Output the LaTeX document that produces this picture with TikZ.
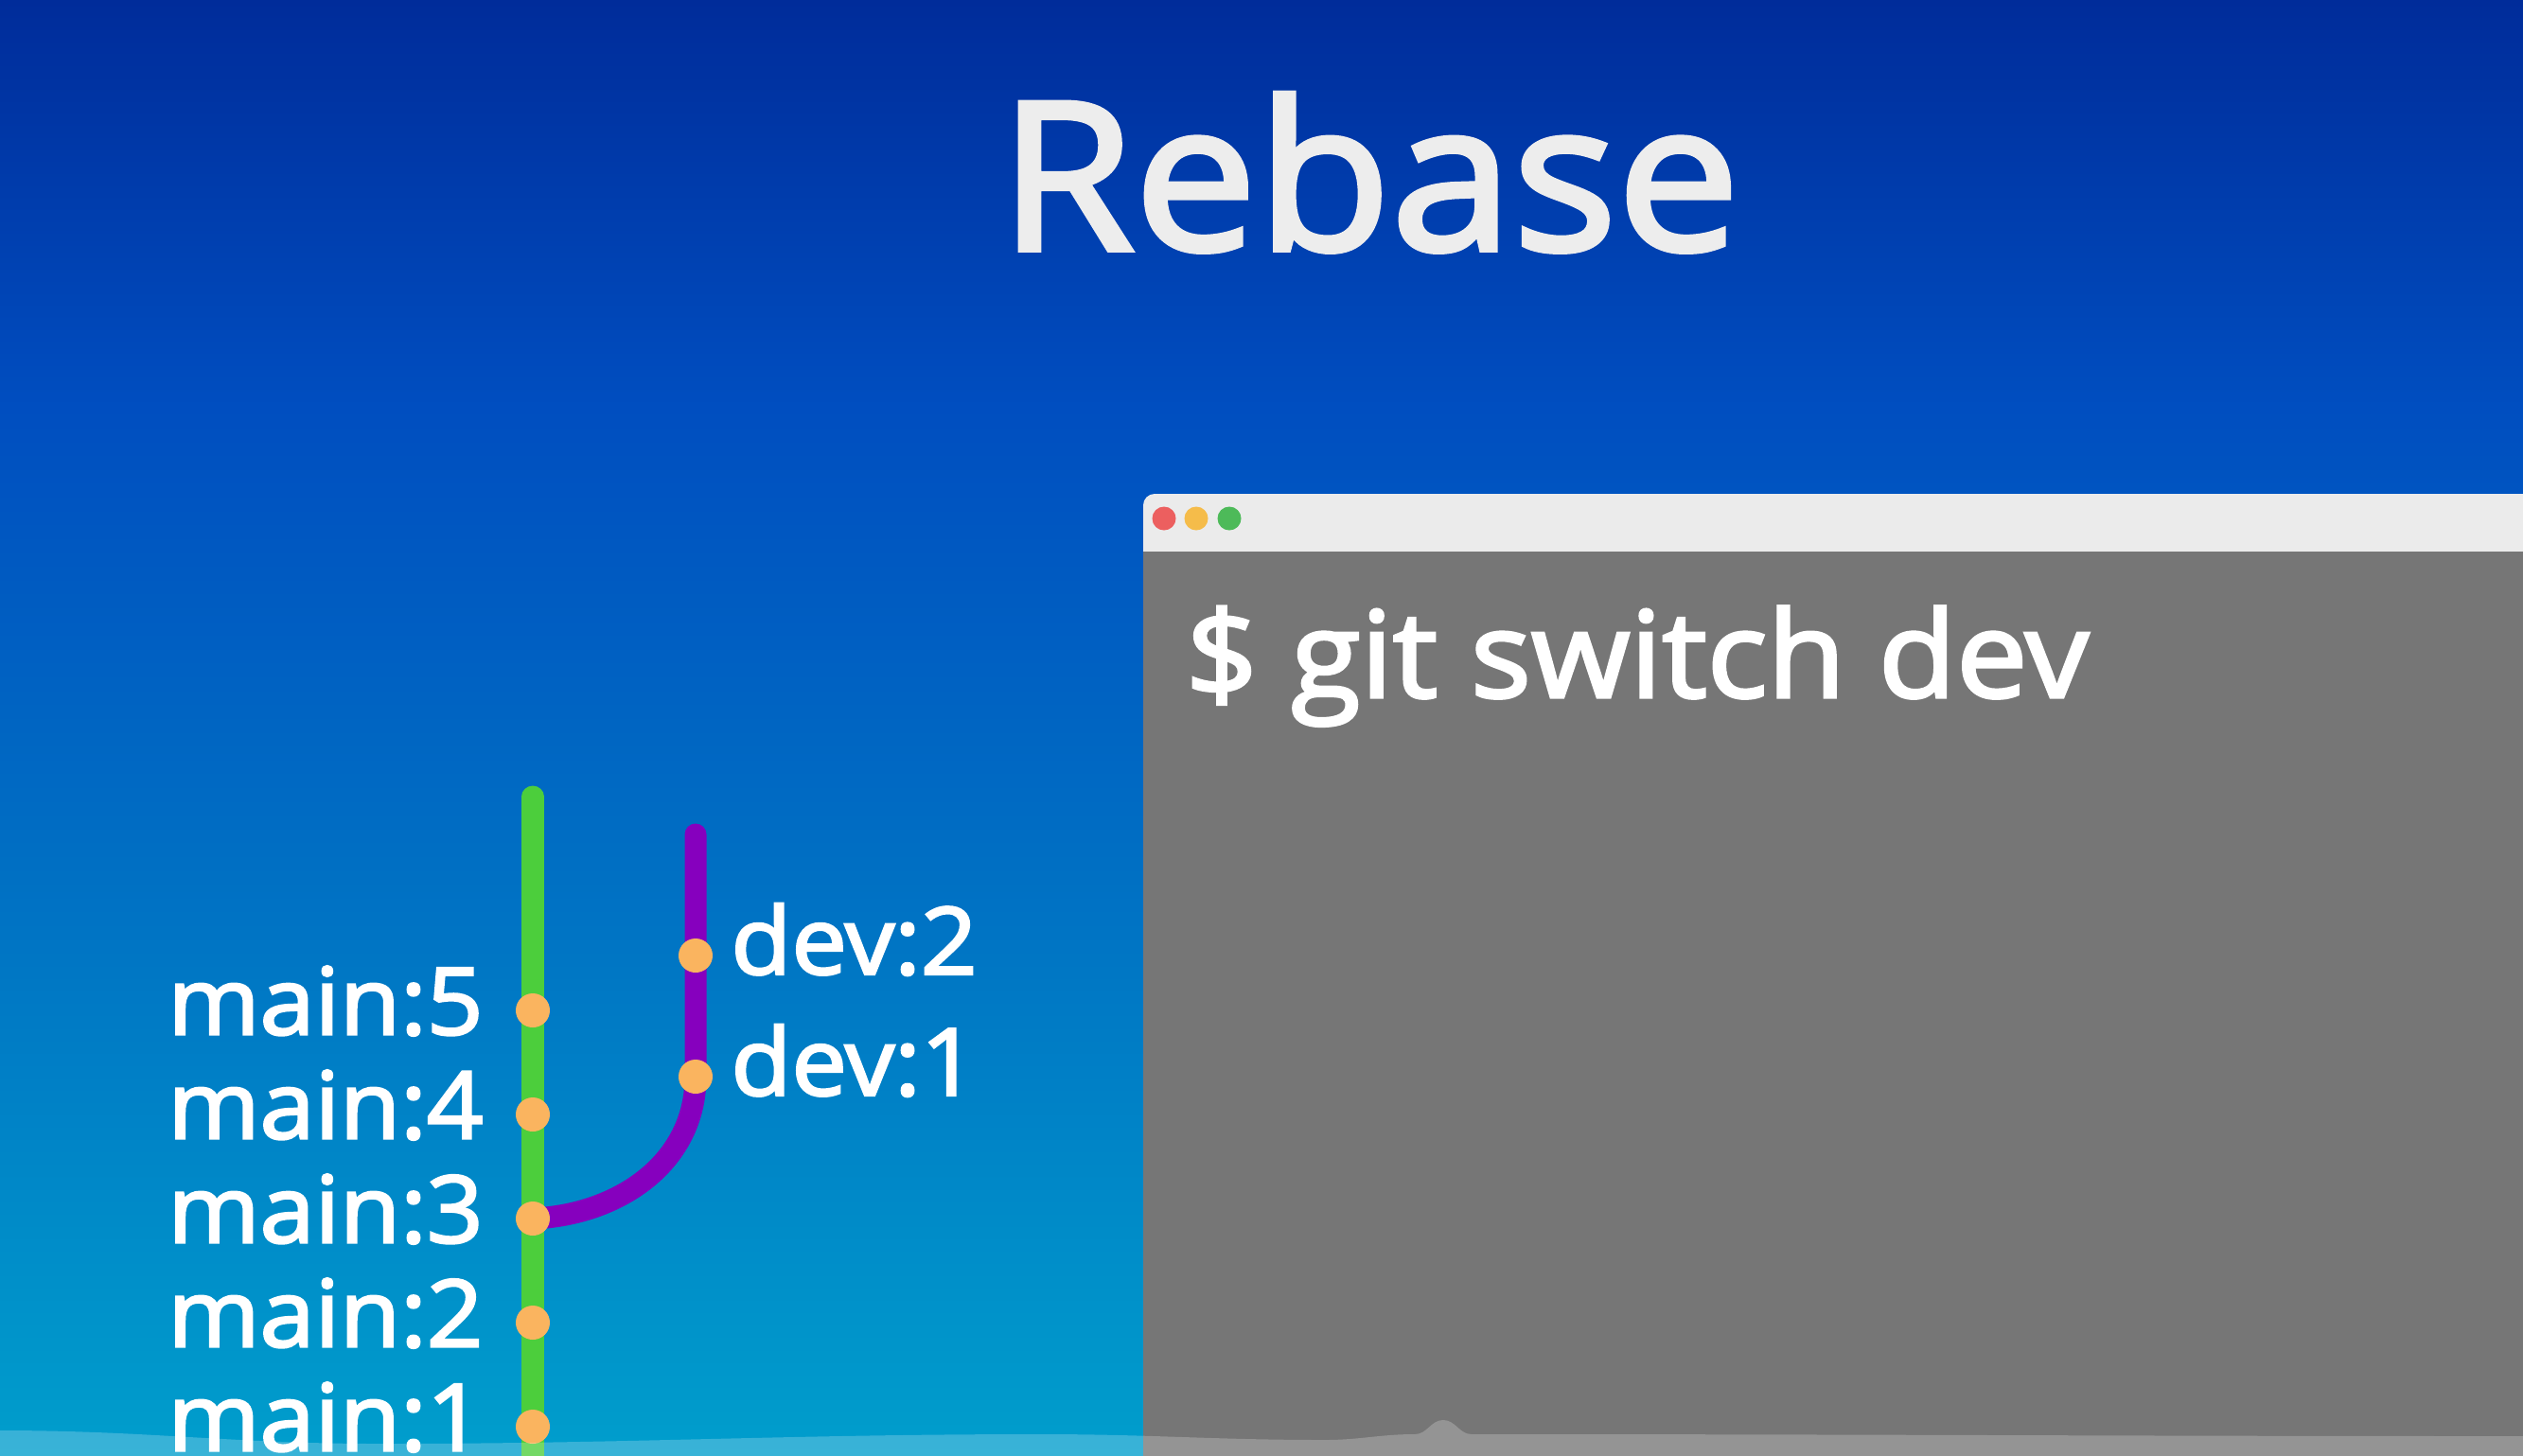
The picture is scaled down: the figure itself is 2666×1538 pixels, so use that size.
\documentclass[tikz,border=0pt]{standalone}
\usepackage{fontspec}
\setmainfont{Open Sans}[FakeBold=2.6, FakeStretch=1.06]
\usetikzlibrary{positioning,calc}
\usepackage{xcolor}

\definecolor{bgtop}{RGB}{0,44,154}
\definecolor{bgupper}{RGB}{0,78,192}
\definecolor{bglower}{RGB}{0,118,196}
\definecolor{bgbot}{RGB}{0,158,204}
\definecolor{termgray}{RGB}{118,118,118}
\definecolor{barwhite}{RGB}{235,235,235}
\definecolor{mainline}{RGB}{76,206,60}
\definecolor{devline}{RGB}{134,0,190}
\definecolor{dotorange}{RGB}{250,180,95}
\definecolor{lightred}{RGB}{236,95,95}
\definecolor{lightyellow}{RGB}{245,188,74}
\definecolor{lightgreen}{RGB}{77,186,89}
\pgfdeclareverticalshading{bgfade}{100bp}{color(0bp)=(bgbot); color(25bp)=(bgbot); color(42bp)=(bglower); color(61bp)=(bgupper); color(75bp)=(bgtop); color(100bp)=(bgtop)}

\begin{document}
\begin{tikzpicture}[x=0.01cm, y=-0.01cm,
  commit/.style={circle, fill=dotorange, inner sep=0pt, minimum size=0.36cm},
  lbl/.style={text=white, inner sep=0pt, font=\fontsize{28}{32}\selectfont},
  branch/.style={line width=0.23cm, line cap=round},
  light/.style={circle, inner sep=0pt, minimum size=0.25cm}]

% Background
\useasboundingbox (0,0) rectangle (2666,1538);
\clip (0,0) rectangle (2666,1538);
\fill[shading=bgfade] (0,0) rectangle (2666,1538);

% Title
\node[text=white!93!black, inner sep=0pt, anchor=base, font=\fontsize{62}{70}\selectfont] (title) at (1447,264) {Rebase};

% Terminal window
\fill[barwhite, rounded corners=0.12cm] (1208,522) rectangle (2720,620);
\fill[termgray] (1208,583) rectangle (2720,1560);
\node[light, fill=lightred] (btnclose) at (1230,548) {};
\node[light, fill=lightyellow] (btnmin) at (1264,548) {};
\node[light, fill=lightgreen] (btnmax) at (1299,548) {};
\node[text=white, inner sep=0pt, anchor=base west, font=\fontsize{36}{40}\selectfont] (cmd) at (1252,737) {\$ git switch dev};

% Branches
\coordinate (mtop) at (563,842);
\coordinate (mbot) at (563,1570);
\coordinate (dtop) at (735,882);
\foreach \i/\y in {1/1508,2/1398,3/1288,4/1178,5/1068}
  \coordinate (m\i) at (563,\y);
\coordinate (d1) at (735,1138);
\coordinate (d2) at (735,1010);

\draw[branch, mainline] (mtop) -- (mbot);
\draw[branch, devline] (dtop) -- (d1) .. controls (735,1228) and (655,1284) .. (m3);

% Commits
\foreach \i in {1,...,5} {
  \node[commit] (c\i) at (m\i) {};
  \node[lbl, left=0.33cm of c\i, yshift=0.1cm] (l\i) {main:\i};
}
\foreach \i in {1,2} {
  \node[commit] (cd\i) at (d\i) {};
  \node[lbl, right=0.18cm of cd\i, yshift=0.17cm] (ld\i) {dev:\i};
}

% Bottom haze
\fill[white, opacity=0.22] (0,1512) to[out=0,in=180] (400,1526) to[out=0,in=180] (1100,1516)
  to[out=0,in=180] (1400,1522) to[out=0,in=180] (1495,1516) to[out=0,in=180] (1525,1501)
  to[out=0,in=180] (1555,1516) to[out=0,in=180] (2666,1518) -- (2666,1545) -- (0,1545) -- cycle;
\end{tikzpicture}
\end{document}
